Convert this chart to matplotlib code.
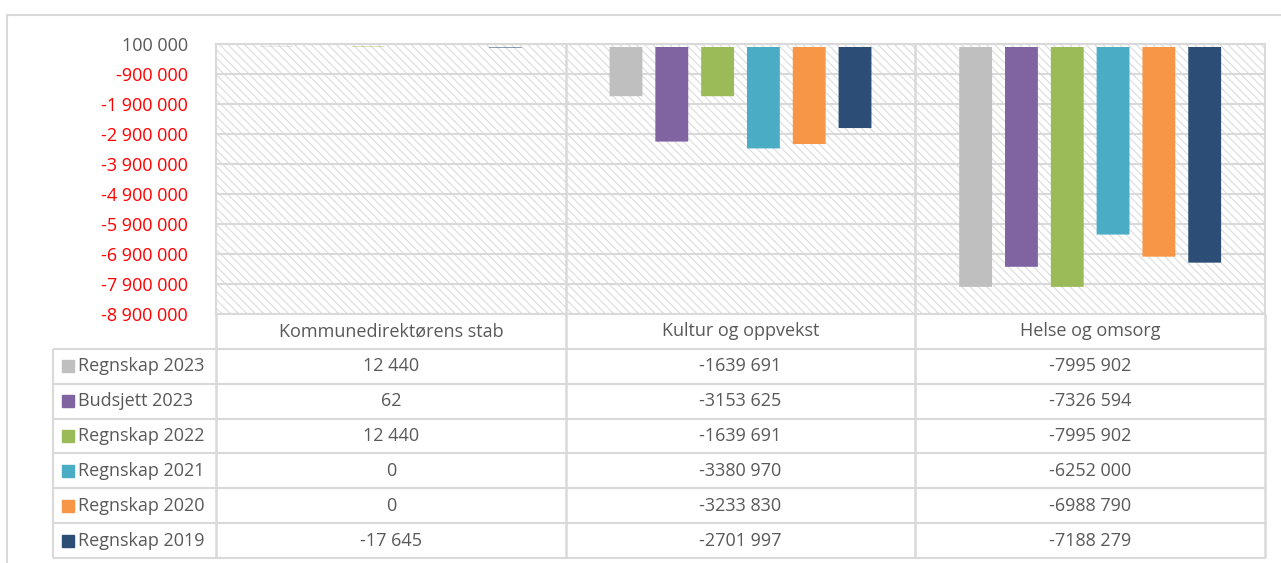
import numpy as np
import matplotlib
matplotlib.use('Agg')
import matplotlib.pyplot as plt
from matplotlib.patches import Rectangle
from matplotlib.lines import Line2D

plt.rcParams['font.family'] = ['Open Sans', 'DejaVu Sans']
plt.rcParams['hatch.linewidth'] = 0.8

# Data
categories = ['Kommunedirektørens stab', 'Kultur og oppvekst', 'Helse og omsorg']
series = ['Regnskap 2023', 'Budsjett 2023', 'Regnskap 2022',
          'Regnskap 2021', 'Regnskap 2020', 'Regnskap 2019']
values = [
    [12440, -1639691, -7995902],
    [62, -3153625, -7326594],
    [12440, -1639691, -7995902],
    [0, -3380970, -6252000],
    [0, -3233830, -6988790],
    [-17645, -2701997, -7188279],
]
colors = ['#BFBFBF', '#8064A2', '#9BBB59', '#4BACC6', '#F79646', '#2C4D75']
y_ticks = np.arange(100000, -8900001, -1000000)

TEXT = '#595959'
GRID = '#d9d9d9'


def fmt_table(v):
    # Excel style used in the source: only the last group is separated
    a = abs(v)
    sign = '-' if v < 0 else ''
    if a >= 1000:
        return f'{sign}{a // 1000} {a % 1000:03d}'
    return f'{sign}{a}'


def fmt_axis(v):
    return f'{int(v):,}'.replace(',', ' ')


W, H = 1281, 563
fig = plt.figure(figsize=(W / 100, H / 100), dpi=100)
fig.patch.set_facecolor('white')

# outer chart border
fig.add_artist(Line2D([7 / W, 7 / W], [0, 1 - 15 / H], color=GRID, lw=1.5))
fig.add_artist(Line2D([7 / W, 1], [1 - 15 / H, 1 - 15 / H], color=GRID, lw=1.5))

ax = fig.add_axes([216 / W, 1 - 314 / H, 1049 / W, 270 / H])
tab = fig.add_axes([216 / W, 1 - 558 / H, 1049 / W, 244 / H], sharex=ax)

# hatched plot area
ax.add_patch(Rectangle((0, 0), 1, 1, transform=ax.transAxes, facecolor='white',
                       edgecolor='#dcdcdc', hatch='\\\\\\\\', lw=0, zorder=0))

x = np.arange(len(categories))
step = 0.131
width = 0.094
for i, (name, vals) in enumerate(zip(series, values)):
    ax.bar(x + (i - 2.5) * step, vals, width=width, color=colors[i],
           zorder=2, snap=False)

ax.set_xlim(-0.5, 2.5)
ax.set_ylim(-8900000, 100000)
ax.set_yticks(y_ticks)
ax.set_yticklabels([fmt_axis(v) for v in y_ticks], fontsize=13)
for lbl, v in zip(ax.get_yticklabels(), y_ticks):
    lbl.set_color('red' if v < 0 else TEXT)
ax.tick_params(axis='y', length=0, pad=20)
ax.tick_params(axis='x', bottom=False, labelbottom=False)
ax.grid(axis='y', color=GRID, lw=1.5)
ax.set_axisbelow(True)
for s in ax.spines.values():
    s.set_color(GRID)
    s.set_linewidth(1.5)
for xv in [0.5, 1.5]:
    ax.axvline(xv, color=GRID, lw=1.8, zorder=1)

# data table
label_left = -0.5 - 163 / 350
tab.set_ylim(len(series) + 1, 0)
tab.axis('off')
lc = dict(color=GRID, lw=1.5, clip_on=False)
tab.hlines(np.arange(1, len(series) + 2), label_left, 2.5, **lc)
tab.vlines([label_left], 1, len(series) + 1, **lc)
tab.vlines([-0.5, 0.5, 1.5, 2.5], 0, len(series) + 1, color=GRID, lw=1.8, clip_on=False)

for j, cat in enumerate(categories):
    tab.text(x[j], 0.5, cat, ha='center', va='center', fontsize=13, color=TEXT)

for i, (name, vals) in enumerate(zip(series, values)):
    yc = i + 1.5
    tab.plot([label_left + 14.5 / 350], [yc], marker='s', ms=8.5, color=colors[i],
             clip_on=False, ls='none')
    tab.text(label_left + 25 / 350, yc, name, ha='left', va='center',
             fontsize=13, color=TEXT)
    for j, v in enumerate(vals):
        tab.text(x[j], yc, fmt_table(v), ha='center', va='center',
                 fontsize=13, color=TEXT)

fig.savefig('out.png', dpi=100)
